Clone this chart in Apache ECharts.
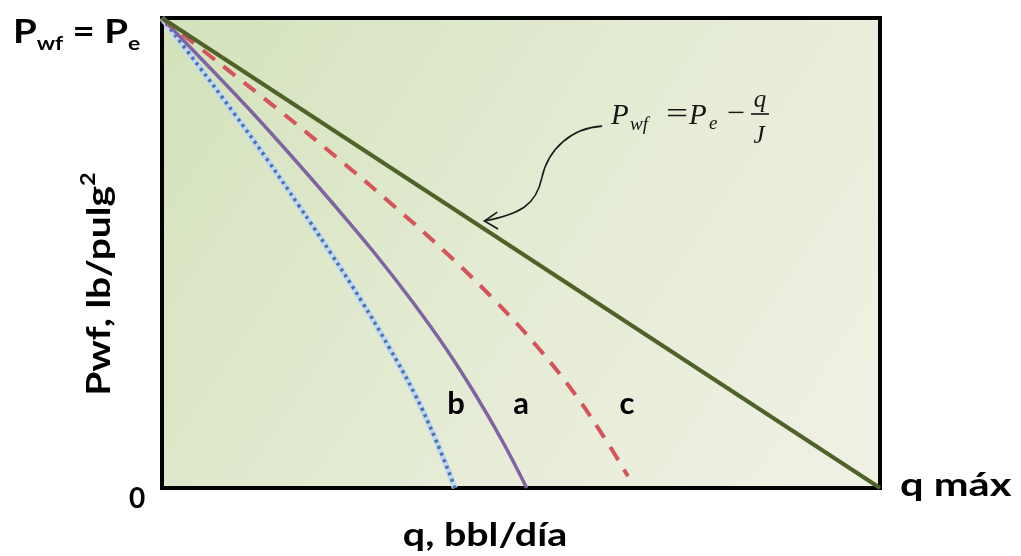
<!DOCTYPE html>
<html>
<head>
<meta charset="utf-8">
<script src="https://cdn.jsdelivr.net/npm/echarts@6/dist/echarts.min.js"></script>
<style>
  html, body { margin: 0; padding: 0; background: #ffffff; }
  #chart { width: 1021px; height: 556px; }
</style>
</head>
<body>
<div id="chart"></div>
<script>
// Flow rate q as a percentage of q máx, bottom-hole pressure Pwf as a percentage of Pe
const straightRate = [0, 100];
const straightPressure = [100, 0];

const curvePressure = [100, 90, 80, 70, 60, 50, 40, 30, 20, 10, 0];
const rateA = [0, 6.3, 12.5, 18.4, 24.1, 29.6, 34.7, 39.4, 43.6, 47.4, 50.8];
const rateB = [0, 5.0, 9.9, 14.6, 19.1, 23.5, 27.7, 31.6, 35.2, 38.2, 40.8];

const curveCPressure = [100, 90, 80, 70, 60, 50, 40, 30, 20, 10, 2.5];
const rateC = [0, 8.3, 16.6, 24.6, 32.3, 39.6, 46.3, 52.3, 57.5, 61.9, 64.9];

// Curved pointer from the equation to the straight line (data units):
// start, control, control, mid, control, control, tip
const pointerPath = [[61.3, 77.0], [57.1, 76.6], [53.8, 72.3], [52.9, 66.0], [52.1, 60.2], [49.9, 58.3], [44.9, 56.8]];
const pointerHead = [[46.7, 58.7], [44.9, 56.8], [46.8, 55.1]];

const pairs = (xs, ys) => xs.map((x, i) => [x, ys[i]]);

const BOLD = 'Lato, "Open Sans", "DejaVu Sans", sans-serif';
const MATH = '"Liberation Serif", "DejaVu Serif", serif';

const chart = echarts.init(document.getElementById('chart'), null, { renderer: 'canvas' });

chart.setOption({
  backgroundColor: '#ffffff',
  animation: false,
  grid: {
    left: 162, top: 18, right: 141, bottom: 68,
    show: true,
    borderColor: '#000000',
    borderWidth: 4,
    backgroundColor: new echarts.graphic.LinearGradient(0, 0, 1, 1, [
      { offset: 0, color: '#d3e2bb' },
      { offset: 0.5, color: '#e4ebd3' },
      { offset: 1, color: '#f1f1e6' }
    ])
  },
  xAxis: {
    type: 'value', min: 0, max: 100,
    axisLine: { show: false }, axisTick: { show: false },
    axisLabel: { show: false }, splitLine: { show: false }
  },
  yAxis: {
    type: 'value', min: 0, max: 100,
    axisLine: { show: false }, axisTick: { show: false },
    axisLabel: { show: false }, splitLine: { show: false }
  },
  series: [
    {
      name: 'b-halo', type: 'line', smooth: 0.4, symbol: 'none', silent: true,
      data: pairs(rateB, curvePressure),
      lineStyle: { color: '#c3d8ee', width: 6 }, z: 2
    },
    {
      name: 'b', type: 'line', smooth: 0.4, symbol: 'none',
      data: pairs(rateB, curvePressure),
      lineStyle: { color: '#4675b0', width: 3.6, type: [3, 4] }, z: 3
    },
    {
      name: 'a', type: 'line', smooth: 0.4, symbol: 'none',
      data: pairs(rateA, curvePressure),
      lineStyle: { color: '#8064a2', width: 3.5 }, z: 3
    },
    {
      name: 'c', type: 'line', smooth: 0.4, symbol: 'none',
      data: pairs(rateC, curveCPressure),
      lineStyle: { color: '#d4545a', width: 4, type: [15, 11] }, z: 3
    },
    {
      name: 'IP', type: 'line', symbol: 'none',
      data: pairs(straightRate, straightPressure),
      lineStyle: { color: '#4f6228', width: 4 }, z: 4
    }
  ]
});

const toPx = p => chart.convertToPixel({ gridIndex: 0 }, p);
const pp = pointerPath.map(toPx);
const headPts = pointerHead.map(toPx);

const boldText = (x, y, text, size, sx, align) => ({
  type: 'text', x: x, y: y, scaleX: sx, z: 10,
  style: { text: text, fontFamily: BOLD, fontWeight: 'bold', fontSize: size, fill: '#000',
           align: align || 'center', verticalAlign: 'middle' }
});
const mathText = (x, y, text, size, italic, align, sx) => ({
  type: 'text', x: x, y: y, scaleX: sx || 1, z: 10,
  style: { text: text, fontFamily: MATH, fontStyle: italic ? 'italic' : 'normal', fontSize: size,
           fill: '#151515', align: align || 'left', verticalAlign: 'middle' }
});

chart.setOption({
  graphic: [
    // Top-left pressure label
    {
      type: 'text', x: 13, y: 33, scaleX: 1.2, z: 10,
      style: {
        text: '{b|P}{s|wf}{b| = P}{s|e}',
        align: 'left', verticalAlign: 'middle',
        rich: {
          b: { fontFamily: BOLD, fontWeight: 'bold', fontSize: 32, lineHeight: 40, fill: '#000' },
          s: { fontFamily: BOLD, fontWeight: 'bold', fontSize: 19, lineHeight: 18, verticalAlign: 'bottom', fill: '#000' }
        }
      }
    },
    // Vertical axis title
    {
      type: 'text', x: 99, y: 284, rotation: Math.PI / 2, scaleX: 1.18, z: 10,
      style: {
        text: '{t|Pwf, lb/pulg}{u|2}',
        align: 'center', verticalAlign: 'middle',
        rich: {
          t: { fontFamily: BOLD, fontWeight: 'bold', fontSize: 33, lineHeight: 40, fill: '#000' },
          u: { fontFamily: BOLD, fontWeight: 'bold', fontSize: 20, lineHeight: 20, verticalAlign: 'top', fill: '#000' }
        }
      }
    },
    boldText(137, 499, '0', 28, 1),
    boldText(900, 486, 'q máx', 32, 1.3, 'left'),
    boldText(485, 536, 'q, bbl/día', 32, 1.23),
    // Curve labels
    boldText(456, 404, 'b', 31, 1),
    boldText(521, 404, 'a', 31, 1),
    boldText(627, 404, 'c', 31, 1),
    // Straight-line equation: Pwf = Pe − q/J
    mathText(611, 116, 'P', 29, true),
    mathText(630, 125, 'wf', 19, true),
    mathText(677, 115, '=', 29, false, 'center', 1.35),
    mathText(689, 116, 'P', 29, true),
    mathText(709, 124, 'e', 19, true),
    mathText(736, 114, '−', 29, false, 'center', 1.1),
    mathText(760, 100, 'q', 25, true, 'center'),
    {
      type: 'line', z: 10,
      shape: { x1: 751, y1: 114, x2: 769, y2: 114 },
      style: { stroke: '#151515', lineWidth: 1.6 }
    },
    mathText(759, 136, 'J', 25, true, 'center'),
    // Pointer
    {
      type: 'bezierCurve', z: 10,
      shape: { x1: pp[0][0], y1: pp[0][1], cpx1: pp[1][0], cpy1: pp[1][1],
               cpx2: pp[2][0], cpy2: pp[2][1], x2: pp[3][0], y2: pp[3][1] },
      style: { stroke: '#1a1a1a', lineWidth: 1.6, fill: null }
    },
    {
      type: 'bezierCurve', z: 10,
      shape: { x1: pp[3][0], y1: pp[3][1], cpx1: pp[4][0], cpy1: pp[4][1],
               cpx2: pp[5][0], cpy2: pp[5][1], x2: pp[6][0], y2: pp[6][1] },
      style: { stroke: '#1a1a1a', lineWidth: 1.6, fill: null }
    },
    {
      type: 'polyline', z: 10,
      shape: { points: headPts },
      style: { stroke: '#1a1a1a', lineWidth: 1.6, fill: null }
    }
  ]
});
</script>
</body>
</html>
